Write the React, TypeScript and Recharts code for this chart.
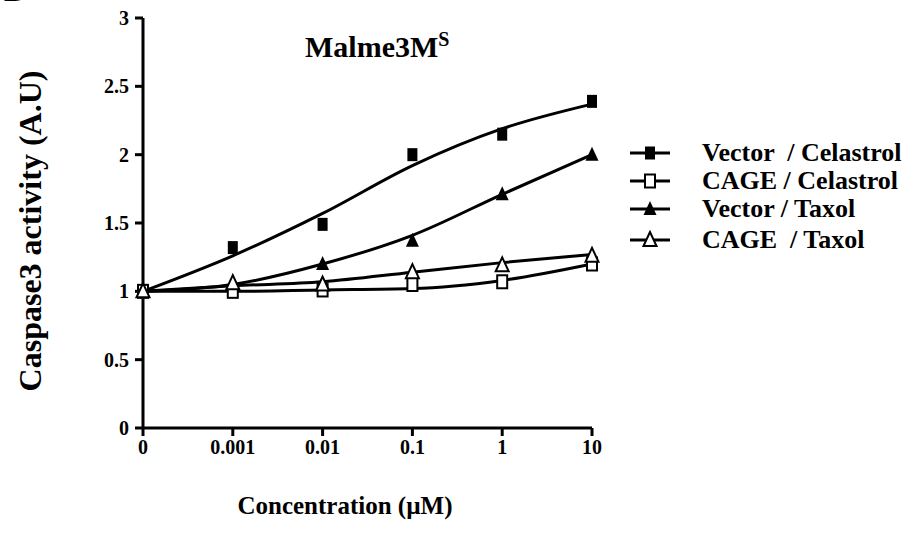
import { LineChart, Line, XAxis, YAxis, Legend, Label } from 'recharts';

const concentrations = ['0', '0.001', '0.01', '0.1', '1', '10'];
const yTicks = [0, 0.5, 1, 1.5, 2, 2.5, 3];

// measured points
const vectorCelastrol = [1, 1.32, 1.49, 2.0, 2.15, 2.39];
const cageCelastrol = [1, 1.0, 1.01, 1.05, 1.07, 1.2];
const vectorTaxol = [1, 1.06, 1.2, 1.37, 1.71, 2.0];
const cageTaxol = [1, 1.06, 1.05, 1.14, 1.19, 1.26];

// trendlines as drawn in the figure
const vectorCelastrolFit = [1, 1.26, 1.57, 1.92, 2.19, 2.37];
const cageCelastrolFit = [1, 1.0, 1.01, 1.02, 1.08, 1.2];
const vectorTaxolFit = [1, 1.05, 1.2, 1.41, 1.71, 2.0];
const cageTaxolFit = [1, 1.04, 1.07, 1.14, 1.21, 1.27];

const FONT = '"Liberation Serif", "Times New Roman", serif';

const data = concentrations.map((conc, i) => ({
  conc,
  vc: vectorCelastrol[i],
  cc: cageCelastrol[i],
  vt: vectorTaxol[i],
  ct: cageTaxol[i],
  vcFit: vectorCelastrolFit[i],
  ccFit: cageCelastrolFit[i],
  vtFit: vectorTaxolFit[i],
  ctFit: cageTaxolFit[i],
}));

type Shape = 'square' | 'openSquare' | 'triangle' | 'openTriangle';

function Marker({ cx, cy, shape }: { cx: number; cy: number; shape: Shape }) {
  if (shape === 'square' || shape === 'openSquare') {
    const filled = shape === 'square';
    return (
      <rect
        x={cx - 5}
        y={cy - 6.5}
        width={10}
        height={13}
        fill={filled ? '#000' : '#fff'}
        stroke="#000"
        strokeWidth={filled ? 0 : 2}
      />
    );
  }
  const filled = shape === 'triangle';
  return (
    <polygon
      points={`${cx},${cy - 8} ${cx - 6.5},${cy + 6} ${cx + 6.5},${cy + 6}`}
      fill={filled ? '#000' : '#fff'}
      stroke="#000"
      strokeWidth={filled ? 0 : 2}
    />
  );
}

const makeDot = (shape: Shape) => (props: any) => {
  const { cx, cy, index } = props;
  return <Marker key={`${shape}-${index}`} cx={cx} cy={cy} shape={shape} />;
};

const legendItems: { label: string; shape: Shape }[] = [
  { label: 'Vector  / Celastrol', shape: 'square' },
  { label: 'CAGE / Celastrol', shape: 'openSquare' },
  { label: 'Vector / Taxol', shape: 'triangle' },
  { label: 'CAGE  / Taxol', shape: 'openTriangle' },
];

const legendRowHeights = [28, 28, 28, 34];

function LegendBox() {
  return (
    <div style={{ fontFamily: FONT, fontWeight: 'bold', fontSize: 26 }}>
      {legendItems.map((item, i) => (
        <div
          key={item.label}
          style={{ display: 'flex', alignItems: 'center', height: legendRowHeights[i] }}
        >
          <svg width={44} height={20} style={{ marginRight: 30, flexShrink: 0 }}>
            <line x1={2} y1={10} x2={42} y2={10} stroke="#000" strokeWidth={3} />
            <Marker cx={22} cy={10} shape={item.shape} />
          </svg>
          <span style={{ whiteSpace: 'pre' }}>{item.label}</span>
        </div>
      ))}
    </div>
  );
}

const tickStyle = { fill: '#000', fontSize: 20, fontWeight: 'bold', fontFamily: FONT };

export default function App() {
  return (
    <div style={{ position: 'absolute', left: 0, top: 0, width: 913, height: 535, background: '#fff', overflow: 'hidden' }}>
      <div
        style={{ position: 'absolute', left: 4, top: -26, fontFamily: FONT, fontWeight: 'bold', fontSize: 30 }}
      >
        B
      </div>
      <div
        style={{
          position: 'absolute',
          left: 305,
          top: 22,
          fontFamily: FONT,
          fontWeight: 'bold',
          fontSize: 30,
          lineHeight: '34px',
        }}
      >
        Malme3M<sup style={{ fontSize: 20, verticalAlign: 11 }}>S</sup>
      </div>
      <LineChart
        width={913}
        height={535}
        data={data}
        margin={{ top: 18, right: 321, bottom: 47, left: 83 }}
      >
        <XAxis
          dataKey="conc"
          scale="point"
          padding={{ left: 0, right: 0 }}
          height={60}
          axisLine={{ stroke: '#000', strokeWidth: 3 }}
          tickLine={{ stroke: '#000', strokeWidth: 3 }}
          tickSize={8}
          tickMargin={4}
          tick={tickStyle}
          interval={0}
        >
          <Label
            content={({ viewBox }: any) => (
              <text
                x={345}
                y={viewBox.y + 86}
                textAnchor="middle"
                fontFamily={FONT}
                fontWeight="bold"
                fontSize={25}
                fill="#000"
              >
                Concentration  (µM)
              </text>
            )}
          />
        </XAxis>
        <YAxis
          type="number"
          domain={[0, 3]}
          ticks={yTicks}
          width={60}
          axisLine={{ stroke: '#000', strokeWidth: 3 }}
          tickLine={{ stroke: '#000', strokeWidth: 3 }}
          tickSize={8}
          tickMargin={6}
          tick={tickStyle}
          interval={0}
        >
          <Label
            content={({ viewBox }: any) => {
              const cy = viewBox.y + viewBox.height / 2 + 8;
              return (
                <text
                  x={30}
                  y={cy}
                  transform={`rotate(-90, 30, ${cy})`}
                  textAnchor="middle"
                  dominantBaseline="central"
                  fontFamily={FONT}
                  fontWeight="bold"
                  fontSize={32}
                  fill="#000"
                >
                  Caspase3 activity (A.U)
                </text>
              );
            }}
          />
        </YAxis>
        <Legend
          layout="vertical"
          verticalAlign="middle"
          align="center"
          content={() => <LegendBox />}
          wrapperStyle={{ position: 'absolute', left: 628, top: 139, width: 285 }}
        />
        <Line dataKey="vcFit" type="monotone" stroke="#000" strokeWidth={3} dot={false} legendType="none" isAnimationActive={false} />
        <Line dataKey="ccFit" type="monotone" stroke="#000" strokeWidth={3} dot={false} legendType="none" isAnimationActive={false} />
        <Line dataKey="vtFit" type="monotone" stroke="#000" strokeWidth={3} dot={false} legendType="none" isAnimationActive={false} />
        <Line dataKey="ctFit" type="monotone" stroke="#000" strokeWidth={3} dot={false} legendType="none" isAnimationActive={false} />
        <Line dataKey="vc" name="Vector / Celastrol" stroke="none" dot={makeDot('square')} activeDot={false} isAnimationActive={false} />
        <Line dataKey="cc" name="CAGE / Celastrol" stroke="none" dot={makeDot('openSquare')} activeDot={false} isAnimationActive={false} />
        <Line dataKey="vt" name="Vector / Taxol" stroke="none" dot={makeDot('triangle')} activeDot={false} isAnimationActive={false} />
        <Line dataKey="ct" name="CAGE / Taxol" stroke="none" dot={makeDot('openTriangle')} activeDot={false} isAnimationActive={false} />
      </LineChart>
    </div>
  );
}
